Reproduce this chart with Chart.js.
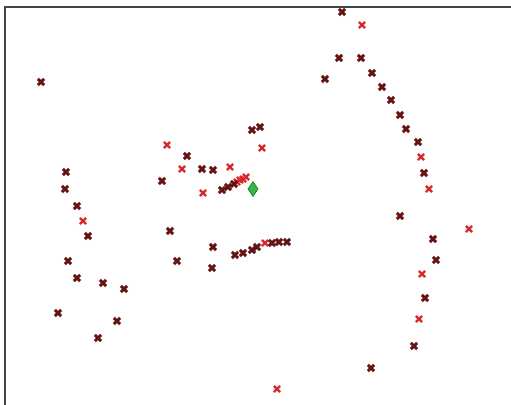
<!DOCTYPE html>
<html>
<head>
<meta charset="utf-8">
<script src="https://cdn.jsdelivr.net/npm/chart.js@4.4.1/dist/chart.umd.min.js"></script>
<style>
  html, body { margin: 0; padding: 0; background: #fff; overflow: hidden; }
  canvas { display: block; }
</style>
</head>
<body>
<canvas id="plot" width="511" height="405"></canvas>
<script>
// dark red crosses
const darkX = [36, 337, 334, 356, 320, 367, 377, 386, 395, 401, 413, 419, 395, 428, 431, 420, 409, 366,
  61, 60, 72, 83, 63, 72, 98, 119, 53, 112, 93,
  157, 165, 182, 197, 208, 247, 255,
  217, 223, 229,
  208, 172, 207, 230, 238, 247, 252, 267, 274, 282];
const darkY = [323, 393, 347, 347, 326, 332, 318, 305, 290, 276, 263, 232, 189, 166, 145, 107, 59, 37,
  233, 216, 199, 169, 144, 127, 122, 116, 92, 84, 67,
  224, 174, 249, 236, 235, 275, 278,
  215, 218, 221,
  158, 144, 137, 150, 152, 155, 158, 162, 163, 163];

// bright red crosses
const redX = [357, 416, 424, 464, 417, 414, 272, 78, 162, 177, 225, 198, 257, 232, 235, 238, 241, 260];
const redY = [380, 248, 216, 176, 131, 86, 16, 184, 260, 236, 238, 212, 257, 223, 225, 226, 228, 162];

// green centre marker
const centreX = [248];
const centreY = [216];

const toPts = (xs, ys) => xs.map((x, i) => ({ x: x, y: ys[i] }));

// tall green diamond used as the centre marker
const diamond = document.createElement('canvas');
diamond.width = 12;
diamond.height = 16;
const dctx = diamond.getContext('2d');
dctx.beginPath();
dctx.moveTo(6, 0.5);
dctx.lineTo(11, 8);
dctx.lineTo(6, 15.5);
dctx.lineTo(1, 8);
dctx.closePath();
dctx.fillStyle = '#38b443';
dctx.fill();
dctx.strokeStyle = '#1f7d27';
dctx.lineWidth = 1;
dctx.stroke();

new Chart(document.getElementById('plot'), {
  type: 'scatter',
  data: {
    datasets: [
      {
        data: toPts(darkX, darkY),
        pointStyle: 'crossRot',
        radius: 4.5,
        borderWidth: 3,
        borderColor: '#661212'
      },
      {
        data: toPts(redX, redY),
        pointStyle: 'crossRot',
        radius: 4.5,
        borderWidth: 2.5,
        borderColor: '#d8282c'
      },
      {
        data: toPts(centreX, centreY),
        pointStyle: diamond,
        radius: 6
      }
    ]
  },
  options: {
    responsive: false,
    animation: false,
    devicePixelRatio: 1,
    layout: { autoPadding: false, padding: { left: 5, top: 7, right: 0, bottom: 0 } },
    plugins: { legend: { display: false }, tooltip: { enabled: false } },
    scales: {
      x: {
        type: 'linear', position: 'top', min: 0, max: 506,
        ticks: { display: false },
        grid: { display: false, drawTicks: false },
        border: { display: true, color: '#444', width: 2 }
      },
      y: {
        type: 'linear', position: 'left', min: 0, max: 398,
        ticks: { display: false },
        grid: { display: false, drawTicks: false },
        border: { display: true, color: '#444', width: 2 }
      }
    }
  }
});
</script>
</body>
</html>
